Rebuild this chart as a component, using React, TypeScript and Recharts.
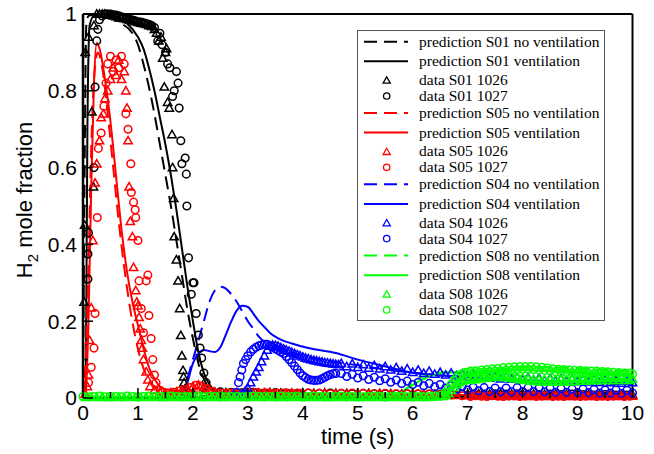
import { ComposedChart, Line, Scatter, XAxis, YAxis } from 'recharts';

type Pt = [number, number];

const BLACK = '#000000';
const RED = '#ff0000';
const BLUE = '#0000ff';
const GREEN = '#00ff00';

// predictions: [time (s), H2 mole fraction]
const s01NoVent: Pt[] = [
  [0, 0], [0.03, 0.6], [0.06, 0.97], [0.1, 0.995], [0.3, 1.0], [0.5, 0.99], [0.7, 0.975], [0.9, 0.95],
  [1.0, 0.92], [1.1, 0.87], [1.2, 0.81], [1.3, 0.74], [1.4, 0.66], [1.5, 0.58], [1.6, 0.5], [1.7, 0.41],
  [1.8, 0.32], [1.9, 0.23], [2.0, 0.155], [2.1, 0.09], [2.2, 0.05], [2.3, 0.025], [2.5, 0.012], [3, 0.008],
  [4, 0.006], [5, 0.005], [6, 0.004], [7, 0.003], [8, 0.002], [10, 0.002],
];
const s01Vent: Pt[] = [
  [0.05, 0], [0.08, 0.7], [0.12, 0.97], [0.2, 0.995], [0.4, 1.0], [0.6, 0.99], [0.8, 0.975], [1.0, 0.94],
  [1.1, 0.91], [1.2, 0.86], [1.3, 0.8], [1.4, 0.73], [1.5, 0.66], [1.6, 0.58], [1.7, 0.49], [1.8, 0.39],
  [1.9, 0.29], [2.0, 0.2], [2.1, 0.12], [2.2, 0.065], [2.3, 0.035], [2.4, 0.02], [2.6, 0.012], [3, 0.009],
  [4, 0.007], [6, 0.005], [8, 0.004], [10, 0.003],
];
const s05NoVent: Pt[] = [
  [0, 0], [0.05, 0.1], [0.1, 0.35], [0.15, 0.65], [0.2, 0.83], [0.27, 0.9], [0.35, 0.86], [0.45, 0.74],
  [0.55, 0.6], [0.65, 0.46], [0.75, 0.34], [0.85, 0.24], [0.95, 0.16], [1.05, 0.1], [1.15, 0.06],
  [1.25, 0.035], [1.4, 0.02], [1.6, 0.014], [2, 0.012], [3, 0.01], [5, 0.008], [7, 0.006], [10, 0.004],
];
const s05Vent: Pt[] = [
  [0.05, 0], [0.1, 0.2], [0.15, 0.55], [0.2, 0.82], [0.25, 0.925], [0.3, 0.91], [0.4, 0.83], [0.5, 0.72],
  [0.6, 0.58], [0.7, 0.44], [0.8, 0.33], [0.9, 0.25], [1.0, 0.19], [1.1, 0.13], [1.2, 0.08], [1.3, 0.05],
  [1.4, 0.03], [1.6, 0.02], [2, 0.015], [3, 0.012], [5, 0.01], [7, 0.008], [10, 0.006],
];
const s04NoVent: Pt[] = [
  [1.8, 0], [1.9, 0.05], [2.0, 0.1], [2.1, 0.15], [2.2, 0.2], [2.3, 0.25], [2.4, 0.28], [2.5, 0.29],
  [2.6, 0.285], [2.7, 0.27], [2.8, 0.25], [2.9, 0.225], [3.0, 0.2], [3.1, 0.18], [3.2, 0.16], [3.4, 0.138],
  [3.7, 0.122], [4, 0.11], [5, 0.085], [6, 0.066], [7, 0.053], [8, 0.045], [9, 0.04], [10, 0.035],
];
const s04Vent: Pt[] = [
  [1.8, 0], [1.9, 0.04], [2.0, 0.09], [2.1, 0.115], [2.2, 0.125], [2.3, 0.122], [2.4, 0.12], [2.5, 0.132],
  [2.6, 0.165], [2.7, 0.2], [2.8, 0.228], [2.9, 0.24], [3.0, 0.237], [3.1, 0.22], [3.2, 0.2], [3.3, 0.185],
  [3.4, 0.17], [3.6, 0.152], [3.8, 0.142], [4.1, 0.13], [4.6, 0.117], [5.0, 0.1], [5.4, 0.086], [6.0, 0.066],
  [7, 0.055], [8, 0.047], [9, 0.042], [10, 0.038],
];
const s08NoVent: Pt[] = [
  [0, 0.002], [5.6, 0.003], [5.8, 0.015], [6.0, 0.04], [6.2, 0.057], [6.4, 0.065], [6.7, 0.068], [7.2, 0.069],
  [7.6, 0.074], [8.0, 0.08], [8.4, 0.081], [8.8, 0.079], [9.2, 0.076], [9.6, 0.073], [10, 0.071],
];
const s08Vent: Pt[] = [
  [0, 0.002], [5.5, 0.003], [5.7, 0.01], [5.9, 0.025], [6.1, 0.042], [6.3, 0.056], [6.5, 0.064], [6.8, 0.068],
  [7.2, 0.068], [7.6, 0.07], [8.0, 0.072], [8.5, 0.07], [9, 0.067], [9.5, 0.064], [10, 0.062],
];

// measurements
const s01d1026: Pt[] = [
  [0.02, 0.25], [0.03, 0.45], [0.04, 0.9], [0.1, 0.94], [0.16, 0.745], [0.19, 0.55], [0.2, 0.97], [0.25, 1.0],
  [0.3, 1.0], [0.35, 1.0], [0.4, 1.0], [0.45, 0.998], [0.5, 0.997], [0.55, 0.995], [0.6, 0.993], [0.65, 0.99],
  [0.7, 0.99], [0.75, 0.988], [0.8, 0.986], [0.85, 0.984], [0.9, 0.982], [0.95, 0.98], [1.0, 0.978],
  [1.05, 0.976], [1.1, 0.975], [1.15, 0.973], [1.2, 0.97], [1.25, 0.968], [1.3, 0.96], [1.34, 0.95],
  [1.38, 0.93], [1.42, 0.94], [1.45, 0.885], [1.48, 0.81], [1.5, 0.9], [1.52, 0.91], [1.54, 0.77],
  [1.57, 0.755], [1.62, 0.686], [1.63, 0.6], [1.65, 0.52], [1.66, 0.42], [1.7, 0.36], [1.73, 0.305],
  [1.76, 0.233], [1.78, 0.163], [1.8, 0.11], [1.82, 0.072], [1.83, 0.055], [1.84, 0.04], [1.86, 0.025],
  [1.9, 0.015], [2.0, 0.013], [2.2, 0.014], [2.4, 0.015], [2.6, 0.014], [2.8, 0.013], [3.0, 0.014],
  [3.2, 0.013], [3.4, 0.014], [3.6, 0.013], [3.8, 0.012], [4.0, 0.013], [4.2, 0.012], [4.4, 0.013],
  [4.6, 0.012], [4.8, 0.012], [5.0, 0.011], [5.2, 0.012], [5.4, 0.011], [5.6, 0.011], [5.8, 0.01],
  [6.0, 0.011], [6.2, 0.01], [6.4, 0.01], [6.6, 0.01], [6.8, 0.009], [7.0, 0.01], [7.2, 0.011], [7.4, 0.01],
  [7.6, 0.011], [7.8, 0.01], [8.0, 0.011], [8.2, 0.01], [8.4, 0.009], [8.6, 0.01], [8.8, 0.009], [9.0, 0.01],
  [9.2, 0.009], [9.4, 0.008], [9.6, 0.009], [9.8, 0.008], [10, 0.008],
];
const s01d1027: Pt[] = [
  [0.09, 0.31], [0.09, 0.375], [0.1, 0.43], [0.2, 0.6], [0.22, 0.81], [0.25, 0.93], [0.27, 0.96],
  [0.3, 0.985], [0.35, 0.995], [0.4, 1.0], [0.45, 1.0], [0.5, 1.0], [0.55, 0.998], [0.6, 0.997],
  [0.65, 0.995], [0.7, 0.993], [0.75, 0.99], [0.8, 0.988], [0.85, 0.986], [0.9, 0.984], [0.95, 0.982],
  [1.0, 0.98], [1.05, 0.979], [1.1, 0.977], [1.15, 0.975], [1.2, 0.973], [1.25, 0.97], [1.3, 0.965],
  [1.36, 0.93], [1.4, 0.95], [1.44, 0.92], [1.5, 0.9], [1.54, 0.87], [1.58, 0.86], [1.63, 0.785],
  [1.66, 0.8], [1.7, 0.85], [1.73, 0.82], [1.75, 0.755], [1.78, 0.67], [1.8, 0.61], [1.86, 0.625],
  [1.88, 0.583], [1.89, 0.5], [1.92, 0.365], [1.97, 0.27], [2.0, 0.3], [2.02, 0.3], [2.06, 0.22],
  [2.1, 0.164], [2.13, 0.13], [2.16, 0.104], [2.2, 0.065], [2.24, 0.04], [2.3, 0.02], [2.5, 0.016],
  [2.7, 0.015], [2.9, 0.014], [3.1, 0.015], [3.3, 0.013], [3.5, 0.014], [3.7, 0.013], [3.9, 0.012],
  [4.1, 0.013], [4.3, 0.012], [4.5, 0.013], [4.7, 0.012], [4.9, 0.011], [5.1, 0.012], [5.3, 0.011],
  [5.5, 0.011], [5.7, 0.01], [5.9, 0.011], [6.1, 0.01], [6.3, 0.01], [6.5, 0.01], [6.7, 0.009],
  [6.9, 0.01], [7.1, 0.011], [7.3, 0.01], [7.5, 0.011], [7.7, 0.01], [7.9, 0.011], [8.1, 0.01],
  [8.3, 0.009], [8.5, 0.01], [8.7, 0.009], [8.9, 0.01], [9.1, 0.009], [9.3, 0.008], [9.5, 0.009],
  [9.7, 0.008], [9.9, 0.008],
];
const s05d1026: Pt[] = [
  [0.04, 0.01], [0.08, 0.03], [0.1, 0.06], [0.12, 0.15], [0.15, 0.235], [0.18, 0.41], [0.22, 0.56],
  [0.25, 0.61], [0.3, 0.67], [0.33, 0.73], [0.37, 0.74], [0.4, 0.78], [0.45, 0.8], [0.5, 0.83], [0.55, 0.86],
  [0.6, 0.84], [0.65, 0.88], [0.7, 0.83], [0.75, 0.85], [0.78, 0.8], [0.8, 0.755], [0.82, 0.67],
  [0.84, 0.55], [0.86, 0.46], [0.9, 0.42], [0.92, 0.34], [0.96, 0.28], [0.98, 0.25], [1.0, 0.24],
  [1.02, 0.21], [1.04, 0.18], [1.06, 0.15], [1.08, 0.13], [1.1, 0.1], [1.15, 0.068], [1.18, 0.047],
  [1.22, 0.03], [1.3, 0.02], [1.4, 0.015], [1.5, 0.012], [1.6, 0.014], [1.7, 0.016], [1.8, 0.02],
  [1.9, 0.024], [2.0, 0.03], [2.1, 0.034], [2.2, 0.028], [2.3, 0.02], [2.4, 0.015], [2.5, 0.012],
  [2.6, 0.011], [2.7, 0.012], [2.8, 0.013], [2.9, 0.012], [3.0, 0.014], [3.1, 0.013], [3.2, 0.012],
  [3.3, 0.014], [3.4, 0.013], [3.5, 0.012], [3.6, 0.011], [3.7, 0.012], [3.8, 0.013], [3.9, 0.012],
  [4.0, 0.011], [4.2, 0.012], [4.4, 0.013], [4.6, 0.012], [4.8, 0.011], [5.0, 0.012], [5.2, 0.011],
  [5.4, 0.012], [5.6, 0.011], [5.8, 0.01], [6.0, 0.011], [6.2, 0.01], [6.4, 0.01], [6.6, 0.009],
  [6.8, 0.007], [7.0, 0.006], [7.1, 0.005], [7.2, 0.006], [7.3, 0.004], [7.4, 0.005], [7.5, 0.006],
  [7.6, 0.004], [7.7, 0.005], [7.8, 0.006], [7.9, 0.004], [8.0, 0.005], [8.1, 0.004], [8.2, 0.006],
  [8.3, 0.005], [8.4, 0.004], [8.5, 0.005], [8.6, 0.006], [8.7, 0.004], [8.8, 0.005], [8.9, 0.004],
  [9.0, 0.005], [9.1, 0.006], [9.2, 0.004], [9.3, 0.005], [9.4, 0.004], [9.5, 0.005], [9.6, 0.006],
  [9.7, 0.004], [9.8, 0.005], [9.9, 0.004], [10, 0.005],
];
const s05d1027: Pt[] = [
  [0.1, 0.04], [0.15, 0.08], [0.2, 0.13], [0.22, 0.22], [0.26, 0.47], [0.28, 0.65], [0.33, 0.69],
  [0.38, 0.76], [0.42, 0.82], [0.45, 0.87], [0.5, 0.89], [0.55, 0.85], [0.6, 0.88], [0.65, 0.86],
  [0.7, 0.89], [0.75, 0.87], [0.78, 0.74], [0.82, 0.7], [0.87, 0.61], [0.88, 0.535], [0.92, 0.51],
  [0.95, 0.49], [0.96, 0.47], [1.0, 0.41], [1.02, 0.305], [1.06, 0.233], [1.1, 0.17], [1.15, 0.305],
  [1.18, 0.32], [1.2, 0.215], [1.24, 0.155], [1.27, 0.1], [1.3, 0.06], [1.33, 0.04], [1.4, 0.02],
  [1.45, 0.014], [1.55, 0.013], [1.65, 0.015], [1.75, 0.018], [1.85, 0.022], [1.95, 0.027], [2.05, 0.033],
  [2.15, 0.031], [2.25, 0.024], [2.35, 0.017], [2.45, 0.013], [2.55, 0.012], [2.65, 0.013], [2.75, 0.011],
  [2.85, 0.012], [2.95, 0.013], [3.05, 0.012], [3.15, 0.014], [3.25, 0.012], [3.35, 0.013], [3.45, 0.011],
  [3.55, 0.012], [3.65, 0.013], [3.75, 0.012], [3.85, 0.011], [3.95, 0.012], [4.1, 0.013], [4.3, 0.012],
  [4.5, 0.011], [4.7, 0.012], [4.9, 0.013], [5.1, 0.012], [5.3, 0.011], [5.5, 0.012], [5.7, 0.011],
  [5.9, 0.01], [6.1, 0.011], [6.3, 0.01], [6.5, 0.009], [6.7, 0.008], [6.9, 0.006], [7.05, 0.004],
  [7.15, 0.006], [7.25, 0.005], [7.35, 0.004], [7.45, 0.006], [7.55, 0.005], [7.65, 0.004], [7.75, 0.005],
  [7.85, 0.006], [7.95, 0.004], [8.05, 0.005], [8.15, 0.006], [8.25, 0.004], [8.35, 0.005], [8.45, 0.006],
  [8.55, 0.004], [8.65, 0.005], [8.75, 0.004], [8.85, 0.006], [8.95, 0.005], [9.05, 0.004], [9.15, 0.005],
  [9.25, 0.006], [9.35, 0.004], [9.45, 0.005], [9.55, 0.004], [9.65, 0.005], [9.75, 0.006], [9.85, 0.004],
  [9.95, 0.005],
];
const s04d1026: Pt[] = [
  [2.85, 0.005], [2.9, 0.01], [2.95, 0.018], [3.0, 0.026], [3.05, 0.04], [3.1, 0.055], [3.15, 0.068],
  [3.2, 0.08], [3.25, 0.095], [3.3, 0.11], [3.35, 0.125], [3.4, 0.135], [3.45, 0.138], [3.5, 0.137],
  [3.55, 0.135], [3.6, 0.131], [3.65, 0.128], [3.7, 0.125], [3.75, 0.122], [3.8, 0.119], [3.85, 0.116],
  [3.9, 0.113], [3.95, 0.11], [4.0, 0.107], [4.05, 0.104], [4.1, 0.102], [4.15, 0.1], [4.2, 0.098],
  [4.25, 0.097], [4.3, 0.095], [4.35, 0.094], [4.4, 0.092], [4.45, 0.091], [4.5, 0.09], [4.55, 0.089],
  [4.6, 0.088], [4.65, 0.087], [4.7, 0.09], [4.8, 0.082], [4.9, 0.089], [5.0, 0.08], [5.1, 0.087],
  [5.2, 0.078], [5.3, 0.085], [5.4, 0.076], [5.5, 0.082], [5.6, 0.073], [5.7, 0.079], [5.8, 0.07],
  [5.9, 0.076], [6.0, 0.067], [6.1, 0.073], [6.2, 0.064], [6.3, 0.07], [6.4, 0.062], [6.5, 0.067],
  [6.6, 0.06], [6.7, 0.065], [6.8, 0.058], [6.9, 0.063], [7.0, 0.056], [7.1, 0.061], [7.2, 0.054],
  [7.3, 0.059], [7.4, 0.052], [7.5, 0.057], [7.6, 0.05], [7.7, 0.055], [7.8, 0.049], [7.9, 0.054],
  [8.0, 0.048], [8.1, 0.053], [8.2, 0.047], [8.3, 0.052], [8.4, 0.046], [8.5, 0.051], [8.6, 0.045],
  [8.7, 0.05], [8.8, 0.044], [8.9, 0.049], [9.0, 0.043], [9.1, 0.048], [9.2, 0.042], [9.3, 0.047],
  [9.4, 0.041], [9.5, 0.046], [9.6, 0.04], [9.7, 0.045], [9.8, 0.039], [9.9, 0.044], [10, 0.04],
];
const s04d1027: Pt[] = [
  [2.75, 0.005], [2.8, 0.015], [2.83, 0.04], [2.86, 0.055], [2.89, 0.073], [2.92, 0.09], [2.96, 0.1],
  [3.0, 0.11], [3.05, 0.12], [3.1, 0.127], [3.15, 0.132], [3.2, 0.136], [3.25, 0.138], [3.3, 0.14],
  [3.35, 0.14], [3.4, 0.136], [3.45, 0.132], [3.5, 0.128], [3.55, 0.124], [3.6, 0.12], [3.65, 0.116],
  [3.7, 0.108], [3.75, 0.1], [3.8, 0.092], [3.85, 0.083], [3.9, 0.074], [3.95, 0.065], [4.0, 0.058],
  [4.05, 0.053], [4.1, 0.049], [4.15, 0.047], [4.2, 0.046], [4.25, 0.046], [4.3, 0.047], [4.35, 0.05],
  [4.4, 0.054], [4.45, 0.058], [4.5, 0.061], [4.55, 0.063], [4.6, 0.064], [4.7, 0.064], [4.8, 0.056],
  [4.9, 0.062], [5.0, 0.052], [5.1, 0.058], [5.2, 0.048], [5.3, 0.054], [5.4, 0.045], [5.5, 0.05],
  [5.6, 0.041], [5.7, 0.047], [5.8, 0.038], [5.9, 0.044], [6.0, 0.035], [6.1, 0.041], [6.2, 0.032],
  [6.3, 0.038], [6.4, 0.029], [6.5, 0.035], [6.6, 0.026], [6.7, 0.032], [6.8, 0.023], [6.9, 0.03],
  [7.0, 0.021], [7.1, 0.028], [7.2, 0.019], [7.3, 0.027], [7.4, 0.017], [7.5, 0.026], [7.6, 0.016],
  [7.7, 0.026], [7.8, 0.016], [7.9, 0.027], [8.0, 0.017], [8.1, 0.027], [8.2, 0.017], [8.3, 0.026],
  [8.4, 0.016], [8.5, 0.025], [8.6, 0.015], [8.7, 0.024], [8.8, 0.015], [8.9, 0.023], [9.0, 0.014],
  [9.1, 0.023], [9.2, 0.014], [9.3, 0.022], [9.4, 0.013], [9.5, 0.021], [9.6, 0.013], [9.7, 0.021],
  [9.8, 0.012], [9.9, 0.02], [10, 0.013],
];
const s08d1026: Pt[] = [
  [0.05, 0.002], [0.15, 0.003], [0.25, 0.002], [0.35, 0.003], [0.45, 0.002], [0.55, 0.002], [0.65, 0.003],
  [0.75, 0.002], [0.85, 0.003], [0.95, 0.002], [1.05, 0.002], [1.15, 0.003], [1.25, 0.002], [1.35, 0.003],
  [1.45, 0.002], [1.55, 0.002], [1.65, 0.003], [1.75, 0.002], [1.85, 0.003], [1.95, 0.002], [2.05, 0.002],
  [2.15, 0.003], [2.25, 0.002], [2.35, 0.003], [2.45, 0.002], [2.55, 0.002], [2.65, 0.003], [2.75, 0.002],
  [2.85, 0.003], [2.95, 0.002], [3.05, 0.002], [3.15, 0.003], [3.25, 0.002], [3.35, 0.003], [3.45, 0.002],
  [3.55, 0.002], [3.65, 0.003], [3.75, 0.002], [3.85, 0.003], [3.95, 0.002], [4.05, 0.002], [4.15, 0.003],
  [4.25, 0.002], [4.35, 0.003], [4.45, 0.002], [4.55, 0.002], [4.65, 0.003], [4.75, 0.002], [4.85, 0.003],
  [4.95, 0.002], [5.05, 0.002], [5.15, 0.003], [5.25, 0.002], [5.35, 0.003], [5.45, 0.002], [5.55, 0.002],
  [5.65, 0.003], [5.75, 0.002], [5.85, 0.003], [5.95, 0.002], [6.05, 0.002], [6.15, 0.003], [6.25, 0.002],
  [6.35, 0.003], [6.45, 0.003], [6.55, 0.004],
  [6.6, 0.006], [6.65, 0.012], [6.7, 0.02], [6.75, 0.028], [6.8, 0.035], [6.85, 0.04], [6.9, 0.044],
  [6.95, 0.048], [7.0, 0.05], [7.05, 0.046], [7.1, 0.052], [7.15, 0.048], [7.2, 0.054], [7.25, 0.05],
  [7.3, 0.056], [7.35, 0.052], [7.4, 0.058], [7.45, 0.054], [7.5, 0.06], [7.55, 0.055], [7.6, 0.06],
  [7.65, 0.054], [7.7, 0.058], [7.75, 0.052], [7.8, 0.056], [7.85, 0.05], [7.9, 0.054], [7.95, 0.048],
  [8.0, 0.052], [8.05, 0.046], [8.1, 0.05], [8.15, 0.044], [8.2, 0.049], [8.25, 0.043], [8.3, 0.048],
  [8.35, 0.042], [8.4, 0.048], [8.45, 0.042], [8.5, 0.048], [8.55, 0.042], [8.6, 0.048], [8.65, 0.042],
  [8.7, 0.048], [8.75, 0.042], [8.8, 0.048], [8.85, 0.043], [8.9, 0.049], [8.95, 0.043], [9.0, 0.049],
  [9.05, 0.044], [9.1, 0.05], [9.15, 0.044], [9.2, 0.05], [9.25, 0.045], [9.3, 0.051], [9.35, 0.045],
  [9.4, 0.051], [9.45, 0.046], [9.5, 0.052], [9.55, 0.046], [9.6, 0.052], [9.65, 0.046], [9.7, 0.052],
  [9.75, 0.046], [9.8, 0.052], [9.85, 0.046], [9.9, 0.052], [9.95, 0.046], [10, 0.05],
];
const s08d1027: Pt[] = [
  [0, 0.004], [0.1, 0.003], [0.2, 0.004], [0.3, 0.005], [0.4, 0.003], [0.5, 0.004], [0.6, 0.004],
  [0.7, 0.003], [0.8, 0.005], [0.9, 0.004], [1.0, 0.003], [1.1, 0.004], [1.2, 0.005], [1.3, 0.004],
  [1.4, 0.003], [1.5, 0.004], [1.6, 0.005], [1.7, 0.004], [1.8, 0.003], [1.9, 0.004], [2.0, 0.004],
  [2.1, 0.005], [2.2, 0.003], [2.3, 0.004], [2.4, 0.004], [2.5, 0.005], [2.6, 0.003], [2.7, 0.004],
  [2.8, 0.004], [2.9, 0.003], [3.0, 0.004], [3.1, 0.005], [3.2, 0.004], [3.3, 0.003], [3.4, 0.004],
  [3.5, 0.004], [3.6, 0.005], [3.7, 0.003], [3.8, 0.004], [3.9, 0.004], [4.0, 0.003], [4.1, 0.004],
  [4.2, 0.005], [4.3, 0.004], [4.4, 0.003], [4.5, 0.004], [4.6, 0.004], [4.7, 0.005], [4.8, 0.003],
  [4.9, 0.004], [5.0, 0.004], [5.1, 0.003], [5.2, 0.004], [5.3, 0.005], [5.4, 0.004], [5.5, 0.003],
  [5.6, 0.004], [5.7, 0.004], [5.8, 0.005], [5.9, 0.003], [6.0, 0.004], [6.1, 0.004], [6.2, 0.003],
  [6.3, 0.004], [6.4, 0.005], [6.5, 0.006],
  [6.55, 0.008], [6.6, 0.015], [6.65, 0.025], [6.7, 0.036], [6.75, 0.046], [6.8, 0.054], [6.85, 0.06],
  [6.9, 0.063], [6.95, 0.066], [7.0, 0.067], [7.05, 0.07], [7.1, 0.066], [7.15, 0.071], [7.2, 0.067],
  [7.25, 0.073], [7.3, 0.068], [7.35, 0.074], [7.4, 0.069], [7.45, 0.076], [7.5, 0.07], [7.55, 0.077],
  [7.6, 0.071], [7.65, 0.079], [7.7, 0.072], [7.75, 0.08], [7.8, 0.073], [7.85, 0.081], [7.9, 0.074],
  [7.95, 0.082], [8.0, 0.075], [8.05, 0.082], [8.1, 0.075], [8.15, 0.082], [8.2, 0.074], [8.25, 0.081],
  [8.3, 0.073], [8.35, 0.08], [8.4, 0.072], [8.45, 0.078], [8.5, 0.07], [8.55, 0.076], [8.6, 0.068],
  [8.65, 0.075], [8.7, 0.067], [8.75, 0.074], [8.8, 0.066], [8.85, 0.073], [8.9, 0.066], [8.95, 0.072],
  [9.0, 0.065], [9.05, 0.072], [9.1, 0.065], [9.15, 0.071], [9.2, 0.064], [9.25, 0.07], [9.3, 0.063],
  [9.35, 0.07], [9.4, 0.063], [9.45, 0.069], [9.5, 0.062], [9.55, 0.068], [9.6, 0.061], [9.65, 0.067],
  [9.7, 0.06], [9.75, 0.066], [9.8, 0.06], [9.85, 0.065], [9.9, 0.059], [9.95, 0.065], [10, 0.062],
];

const xTicks = [0, 0.5, 1, 1.5, 2, 2.5, 3, 3.5, 4, 4.5, 5, 5.5, 6, 6.5, 7, 7.5, 8, 8.5, 9, 9.5, 10];
const xTopTicks = [1, 2, 3, 4, 5, 6, 7, 8, 9];
const yTicks = [0, 0.1, 0.2, 0.3, 0.4, 0.5, 0.6, 0.7, 0.8, 0.9, 1];
const yLabels = [0, 0.2, 0.4, 0.6, 0.8, 1];

const legendNames = [
  'prediction S01 no ventilation', 'prediction S01 ventilation', 'data S01 1026', 'data S01 1027',
  'prediction S05 no ventilation', 'prediction S05 ventilation', 'data S05 1026', 'data S05 1027',
  'prediction S04 no ventilation', 'prediction S04 ventilation', 'data S04 1026', 'data S04 1027',
  'prediction S08 no ventilation', 'prediction S08 ventilation', 'data S08 1026', 'data S08 1027',
];
const groupColors = [BLACK, RED, BLUE, GREEN];

const SANS = "'Liberation Sans', Arial, sans-serif";
const SERIF = "'Liberation Serif', 'Times New Roman', serif";
const DASH = '13 7';

const rows = (pts: Pt[]) => pts.map(([t, v]) => ({ t, v }));
const isYLabel = (v: number) => yLabels.some((l) => Math.abs(l - v) < 1e-6);

const triangle = (color: string, s = 4.2, w = 1.5) => (p: any) => (
  <path
    d={`M${p.cx},${p.cy - s}L${p.cx + s},${p.cy + s * 0.75}L${p.cx - s},${p.cy + s * 0.75}Z`}
    fill="none" stroke={color} strokeWidth={w}
  />
);
const ring = (color: string, r = 3.8, w = 1.5) => (p: any) => (
  <circle cx={p.cx} cy={p.cy} r={r} fill="none" stroke={color} strokeWidth={w} />
);

const BottomTick = ({ x, y, payload }: any) => {
  const major = Number.isInteger(payload.value);
  return (
    <g>
      <line x1={x} x2={x} y1={y} y2={y - (major ? 10 : 6)} stroke="#000" strokeWidth={1.5} />
      {major && (
        <text x={x} y={y + 22} textAnchor="middle" fontSize={21} fontFamily={SANS} fill="#000">
          {payload.value}
        </text>
      )}
    </g>
  );
};
const TopTick = ({ x, y }: any) => (
  <line x1={x} x2={x} y1={y} y2={y + 10} stroke="#000" strokeWidth={1.5} />
);
const LeftTick = ({ x, y, payload }: any) => {
  const major = isYLabel(payload.value);
  return (
    <g>
      <line x1={x} x2={x + (major ? 10 : 5)} y1={y} y2={y} stroke="#000" strokeWidth={1.5} />
      {major && (
        <text x={x - 6} y={y} dy="0.35em" textAnchor="end" fontSize={21} fontFamily={SANS} fill="#000">
          {payload.value}
        </text>
      )}
    </g>
  );
};
const RightTick = ({ x, y, payload }: any) => {
  const major = isYLabel(payload.value);
  return <line x1={x} x2={x - (major ? 10 : 5)} y1={y} y2={y} stroke="#000" strokeWidth={1.5} />;
};

const YTitle = () => (
  <text transform="translate(32,200) rotate(-90)" textAnchor="middle" fontSize={22} fontFamily={SANS} fill="#000">
    H<tspan fontSize={15} dy={6}>2</tspan>
    <tspan dy={-6}> mole fraction</tspan>
  </text>
);

function LegendBox() {
  const rowOffsets = [0, 19.6, 38.3, 54.3];
  return (
    <svg
      width={248}
      height={292}
      style={{ position: 'absolute', left: 357, top: 30, pointerEvents: 'none' }}
    >
      <rect x={0.5} y={0.5} width={247} height={290} fill="#fff" stroke="#555" strokeWidth={1} />
      {legendNames.map((name, i) => {
        const g = Math.floor(i / 4);
        const k = i % 4;
        const color = groupColors[g];
        const cy = 11.7 + g * 71.3 + rowOffsets[k];
        let sample;
        if (k === 0) sample = <line x1={7} x2={51} y1={cy} y2={cy} stroke={color} strokeWidth={2} strokeDasharray={DASH} />;
        else if (k === 1) sample = <line x1={7} x2={51} y1={cy} y2={cy} stroke={color} strokeWidth={2} />;
        else if (k === 2) sample = triangle(color, 3.6, 1.3)({ cx: 29.7, cy: cy + 0.5 });
        else sample = ring(color, 3.2, 1.3)({ cx: 29.7, cy });
        return (
          <g key={name}>
            {sample}
            <text x={62} y={cy + 5} fontSize={15.5} fontFamily={SERIF} fill="#000">{name}</text>
          </g>
        );
      })}
    </svg>
  );
}

export default function App() {
  const lineProps = { type: 'monotone' as const, dataKey: 'v', dot: false, strokeWidth: 2, isAnimationActive: false };
  return (
    <div style={{ position: 'absolute', left: 0, top: 0, width: 654, height: 454, background: '#fff' }}>
      <ComposedChart width={654} height={454} margin={{ top: 13, right: 20.5, bottom: 55, left: 82 }}>
        <XAxis
          dataKey="t" type="number" domain={[0, 10]} ticks={xTicks} interval={0} height={1}
          tickSize={0} tickMargin={0} tickLine={false} tick={BottomTick}
          axisLine={{ stroke: '#000', strokeWidth: 2 }}
          label={{ value: 'time (s)', position: 'bottom', offset: 29, fontSize: 22, fontFamily: SANS, fill: '#000' }}
        />
        <XAxis
          xAxisId="top" orientation="top" type="number" domain={[0, 10]} ticks={xTopTicks} interval={0}
          height={1} tickSize={0} tickMargin={0} tickLine={false} tick={TopTick}
          axisLine={{ stroke: '#000', strokeWidth: 2 }}
        />
        <YAxis
          dataKey="v" type="number" domain={[0, 1]} ticks={yTicks} interval={0} width={1}
          tickSize={0} tickMargin={0} tickLine={false} tick={LeftTick}
          axisLine={{ stroke: '#000', strokeWidth: 2.5 }}
          label={YTitle}
        />
        <YAxis
          yAxisId="right" orientation="right" type="number" domain={[0, 1]} ticks={yTicks} interval={0}
          width={1} tickSize={0} tickMargin={0} tickLine={false} tick={RightTick}
          axisLine={{ stroke: '#000', strokeWidth: 2 }}
        />

        <Scatter data={rows(s01d1026)} shape={triangle(BLACK)} isAnimationActive={false} />
        <Scatter data={rows(s01d1027)} shape={ring(BLACK)} isAnimationActive={false} />
        <Scatter data={rows(s05d1026)} shape={triangle(RED)} isAnimationActive={false} />
        <Scatter data={rows(s05d1027)} shape={ring(RED)} isAnimationActive={false} />
        <Scatter data={rows(s04d1026)} shape={triangle(BLUE)} isAnimationActive={false} />
        <Scatter data={rows(s04d1027)} shape={ring(BLUE)} isAnimationActive={false} />
        <Scatter data={rows(s08d1026)} shape={triangle(GREEN)} isAnimationActive={false} />
        <Scatter data={rows(s08d1027)} shape={ring(GREEN)} isAnimationActive={false} />

        <Line {...lineProps} data={rows(s01NoVent)} stroke={BLACK} strokeDasharray={DASH} />
        <Line {...lineProps} data={rows(s01Vent)} stroke={BLACK} />
        <Line {...lineProps} data={rows(s05NoVent)} stroke={RED} strokeDasharray={DASH} />
        <Line {...lineProps} data={rows(s05Vent)} stroke={RED} />
        <Line {...lineProps} data={rows(s04NoVent)} stroke={BLUE} strokeDasharray={DASH} />
        <Line {...lineProps} data={rows(s04Vent)} stroke={BLUE} />
        <Line {...lineProps} data={rows(s08NoVent)} stroke={GREEN} strokeDasharray={DASH} />
        <Line {...lineProps} data={rows(s08Vent)} stroke={GREEN} />
      </ComposedChart>
      <LegendBox />
    </div>
  );
}
